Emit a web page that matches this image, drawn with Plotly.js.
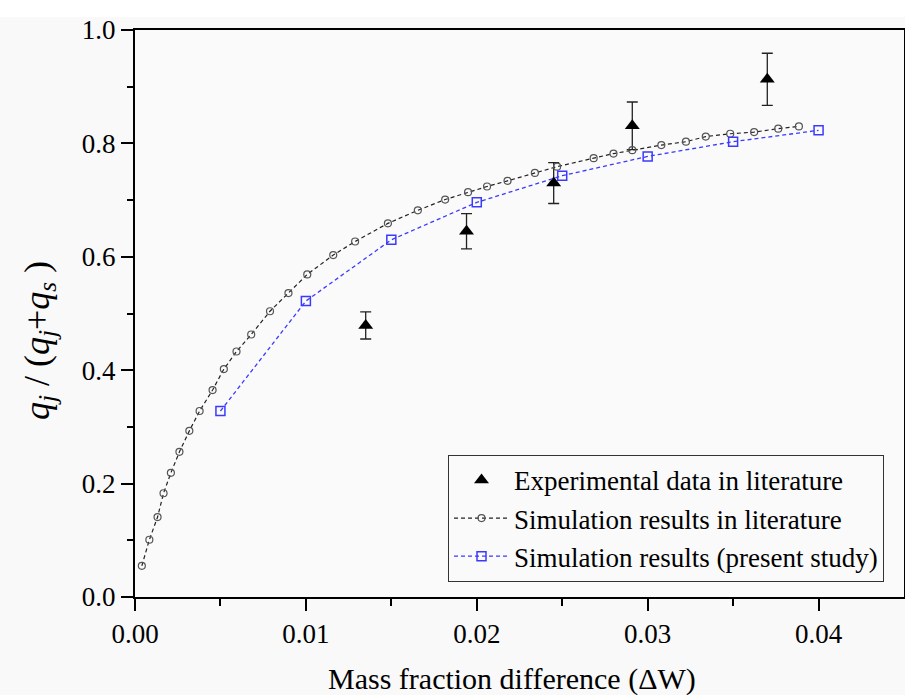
<!DOCTYPE html>
<html>
<head>
<meta charset="utf-8">
<script src="https://cdn.plot.ly/plotly-3.0.1.min.js"></script>
<style>html,body{margin:0;padding:0;background:#f9f9f9;}</style>
</head>
<body>
<div id="chart" style="width:905px;height:695px;"></div>
<script>
// Experimental data in literature (with error bars)
const expX = [0.0135, 0.0194, 0.0245, 0.0291, 0.0370];
const expY = [0.479, 0.645, 0.730, 0.831, 0.913];
const expErr = [0.024, 0.031, 0.036, 0.042, 0.046];

// Simulation results in literature
const litX = [0.0004, 0.00084, 0.00132, 0.00167, 0.0021, 0.0026, 0.00318, 0.00378, 0.00454, 0.0052,
              0.00594, 0.0068, 0.0079, 0.00898, 0.01008, 0.0116, 0.01288, 0.0148, 0.01655, 0.01815,
              0.01949, 0.0206, 0.0218, 0.0234, 0.0247, 0.02684, 0.0280, 0.0291, 0.0308, 0.03224,
              0.0334, 0.03483, 0.03623, 0.03764, 0.03885];
const litY = [0.055, 0.101, 0.141, 0.183, 0.219, 0.256, 0.293, 0.328, 0.365, 0.402,
              0.433, 0.463, 0.504, 0.536, 0.569, 0.603, 0.627, 0.659, 0.682, 0.701,
              0.714, 0.724, 0.734, 0.748, 0.759, 0.774, 0.782, 0.788, 0.797, 0.803,
              0.812, 0.817, 0.820, 0.826, 0.830];

// Simulation results (present study)
const presX = [0.005, 0.010, 0.015, 0.020, 0.025, 0.030, 0.035, 0.040];
const presY = [0.328, 0.522, 0.630, 0.696, 0.743, 0.777, 0.803, 0.823];

// Axis tick values
const xTicks = [0, 0.01, 0.02, 0.03, 0.04];
const xMinor = [0.005, 0.015, 0.025, 0.035];
const yTicks = [0, 0.2, 0.4, 0.6, 0.8, 1.0];
const yMinor = [0.1, 0.3, 0.5, 0.7, 0.9];

const serif = 'Liberation Serif, Times New Roman, serif';

const traces = [
  {
    x: expX, y: expY, type: 'scatter', mode: 'markers',
    name: 'Experimental data in literature',
    marker: {symbol: 'triangle-up', size: 13, color: '#000'},
    error_y: {type: 'data', array: expErr, visible: true, color: '#222', thickness: 1.3, width: 5.5}
  },
  {
    x: litX, y: litY, type: 'scatter', mode: 'lines+markers',
    name: 'Simulation results in literature',
    line: {color: '#222', width: 1.2, dash: '4px,3px'},
    marker: {symbol: 'circle-open', size: 7, color: '#555', line: {width: 1.2, color: '#555'}}
  },
  {
    x: presX, y: presY, type: 'scatter', mode: 'lines+markers',
    name: 'Simulation results (present study)',
    line: {color: '#3a3aff', width: 1.3, dash: '4px,3px'},
    marker: {symbol: 'square-open', size: 9, color: '#3a3aff', line: {width: 1.5, color: '#3a3aff'}}
  }
];

const layout = {
  width: 905, height: 695,
  margin: {l: 135, r: 1, t: 30, b: 98, pad: 0},
  paper_bgcolor: '#f9f9f9',
  plot_bgcolor: '#fafafa',
  font: {family: serif, size: 22, color: '#000'},
  showlegend: true,
  xaxis: {
    range: [0, 0.045], tickvals: xTicks, tickformat: '.2f',
    ticks: 'outside', ticklen: 12, tickwidth: 2, tickcolor: '#000',
    minor: {tickvals: xMinor, ticks: 'outside', ticklen: 7, tickwidth: 2, tickcolor: '#000'},
    showline: true, linewidth: 2, linecolor: '#000', mirror: true,
    showgrid: false, zeroline: false,
    tickfont: {family: serif, size: 27}
  },
  yaxis: {
    range: [0, 1.0], tickvals: yTicks, tickformat: '.1f',
    ticks: 'outside', ticklen: 12, tickwidth: 2, tickcolor: '#000',
    minor: {tickvals: yMinor, ticks: 'outside', ticklen: 6, tickwidth: 2, tickcolor: '#000'},
    showline: true, linewidth: 2, linecolor: '#000', mirror: true,
    showgrid: false, zeroline: false,
    tickfont: {family: serif, size: 27}
  },
  legend: {
    x: 0.974, xanchor: 'right', y: 0.2506, yanchor: 'top',
    bgcolor: '#fafafa', bordercolor: '#333', borderwidth: 1,
    itemwidth: 55,
    font: {family: serif, size: 27}
  },
  shapes: [
    {type: 'rect', xref: 'paper', yref: 'paper', x0: -0.2, x1: 1.01, y0: 1.0229, y1: 1.06,
     fillcolor: '#ffffff', line: {width: 0}, layer: 'below'}
  ],
  annotations: [
    {text: 'Mass fraction difference (ΔW)', xref: 'paper', yref: 'paper', x: 0.49, y: -0.145,
     xanchor: 'center', yanchor: 'middle', showarrow: false, font: {family: serif, size: 30}},
    {text: '<i>q<sub>j</sub></i> / (<i>q<sub>j</sub></i>+<i>q<sub>s</sub></i> )', xref: 'paper', yref: 'paper',
     x: -0.125, y: 0.453, xanchor: 'center', yanchor: 'middle', textangle: -90, showarrow: false,
     font: {family: serif, size: 36}}
  ]
};

Plotly.newPlot('chart', traces, layout, {displayModeBar: false, staticPlot: true});
</script>
</body>
</html>
